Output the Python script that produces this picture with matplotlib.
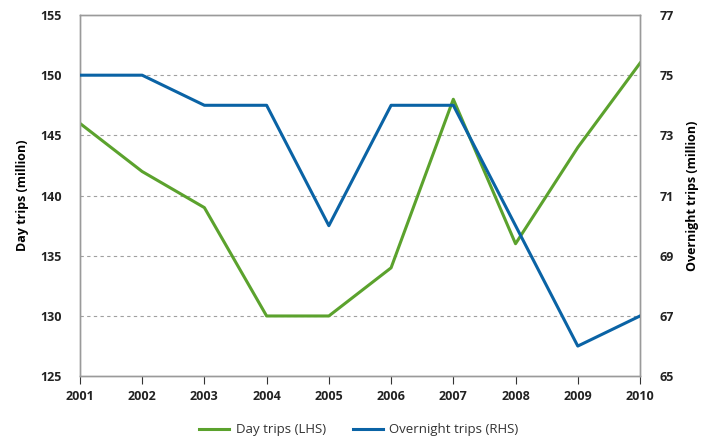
import matplotlib
matplotlib.use("Agg")
import matplotlib.pyplot as plt
from matplotlib.lines import Line2D

# datos
years = [2001, 2002, 2003, 2004, 2005, 2006, 2007, 2008, 2009, 2010]
day_trips = [146, 142, 139, 130, 130, 134, 148, 136, 144, 151]
overnight_trips = [75, 75, 74, 74, 70, 74, 74, 70, 66, 67]

green = "#5ba22d"
blue = "#0a63a5"
spine_c = "#9a9a9a"

plt.rcParams["font.family"] = ["Open Sans", "DejaVu Sans"]

fig = plt.figure(figsize=(7.01, 4.41), dpi=100)
ax = fig.add_axes([0.114, 0.147, 0.799, 0.819])
ax2 = ax.twinx()

ax.plot(years, day_trips, color=green, lw=2.2, zorder=3)
ax2.plot(years, overnight_trips, color=blue, lw=2.2, zorder=3)

ax.set_xlim(2001, 2010)
ax.set_ylim(125, 155)
ax2.set_ylim(65, 77)
ax.set_xticks(years)
ax.set_yticks(range(125, 156, 5))
ax2.set_yticks(range(65, 78, 2))

# lineas de rejilla discontinuas
for y in range(130, 155, 5):
    ax.axhline(y, color="#a0a0a0", lw=0.8, ls=(0, (3, 3)), zorder=1)

for a in (ax, ax2):
    for s in a.spines.values():
        s.set_color(spine_c)
        s.set_linewidth(1.0)
    a.tick_params(axis="y", length=0, labelsize=9)
    for lbl in a.get_yticklabels():
        lbl.set_fontweight("bold")
        lbl.set_color("#222222")

ax.tick_params(axis="y", pad=13)
ax2.tick_params(axis="y", pad=14)
ax.tick_params(axis="x", length=6, color="#333333", labelsize=9, pad=4)
for lbl in ax.get_xticklabels():
    lbl.set_fontweight("bold")
    lbl.set_color("#222222")

ax.set_ylabel("Day trips (million)", fontsize=9, fontweight="bold", labelpad=8)
ax2.set_ylabel("Overnight trips (million)", fontsize=9, fontweight="bold", labelpad=9)

handles = [Line2D([], [], color=green, lw=2.2), Line2D([], [], color=blue, lw=2.2)]
leg = fig.legend(handles, ["Day trips (LHS)", "Overnight trips (RHS)"],
                 loc="center", bbox_to_anchor=(0.512, 0.025), ncol=2, frameon=False,
                 fontsize=9.5, handlelength=2.3, columnspacing=2.0, handletextpad=0.5)
for t in leg.get_texts():
    t.set_color("#333333")

fig.savefig("out.png", dpi=100)
